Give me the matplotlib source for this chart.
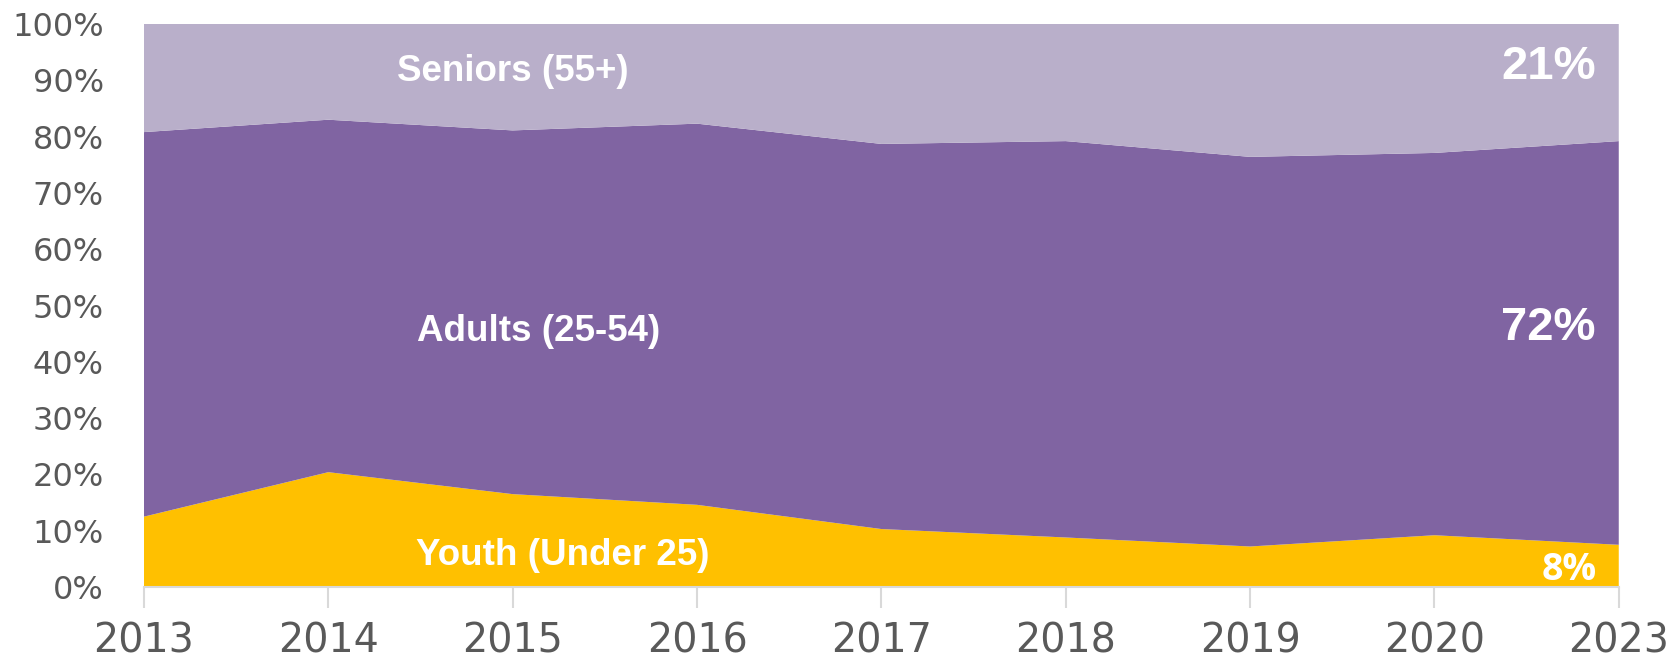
import numpy as np
import matplotlib.pyplot as plt
from matplotlib.ticker import PercentFormatter

# Dades (percentatges llegits de la imatge)
YEARS = ['2013', '2014', '2015', '2016', '2017', '2018', '2019', '2020', '2023']
YOUTH = [12.5, 20.4, 16.5, 14.6, 10.3, 8.8, 7.2, 9.2, 7.5]
ADULTS = [68.3, 62.6, 64.6, 67.7, 68.4, 70.4, 69.2, 67.9, 71.7]
SENIORS = [19.2, 17.0, 18.9, 17.7, 21.3, 20.8, 23.6, 22.9, 20.8]

COLORS = ['#FFC000', '#8064A2', '#B9AFCA']

fig = plt.figure(figsize=(16.74, 6.63), dpi=100)
ax = fig.add_axes([0.086, 0.1146, 0.881, 0.8492])

x = np.arange(len(YEARS))
ax.stackplot(x, YOUTH, ADULTS, SENIORS, colors=COLORS, linewidth=0)

ax.set_xlim(0, len(YEARS) - 1)
ax.set_ylim(0, 100)
ax.set_yticks(np.arange(0, 101, 10))
ax.yaxis.set_major_formatter(PercentFormatter(decimals=0))
ax.set_xticks(x, YEARS)

for side in ['left', 'top', 'right']:
    ax.spines[side].set_visible(False)
ax.spines['bottom'].set_color('#D9D9D9')
ax.spines['bottom'].set_linewidth(1.5)

ax.tick_params(axis='y', length=0, pad=29, labelsize=23, labelcolor='#595959')
ax.tick_params(axis='x', length=15, width=1.5, color='#D9D9D9', pad=10,
               labelsize=28.5, labelcolor='#595959')
for lab in ax.get_xticklabels() + ax.get_yticklabels():
    lab.set_family('DejaVu Sans')

# Etiquetes dins del gràfic
txt = dict(color='white', fontweight='bold', family='Liberation Sans',
           ha='center', va='center')
ax.text(2.0, 91.6, 'Seniors (55+)', fontsize=26.5, **txt)
ax.text(2.14, 45.3, 'Adults (25-54)', fontsize=26.5, **txt)
ax.text(2.27, 5.6, 'Youth (Under 25)', fontsize=26.5, **txt)
ax.text(7.62, 92.4, '21%', fontsize=34, **txt)
ax.text(7.62, 46.0, '72%', fontsize=34, **txt)
ax.text(7.73, 3.0, '8%', fontsize=27, color='white', fontweight='bold',
        family='Open Sans', ha='center', va='center')

fig.savefig('out.png', dpi=100)
